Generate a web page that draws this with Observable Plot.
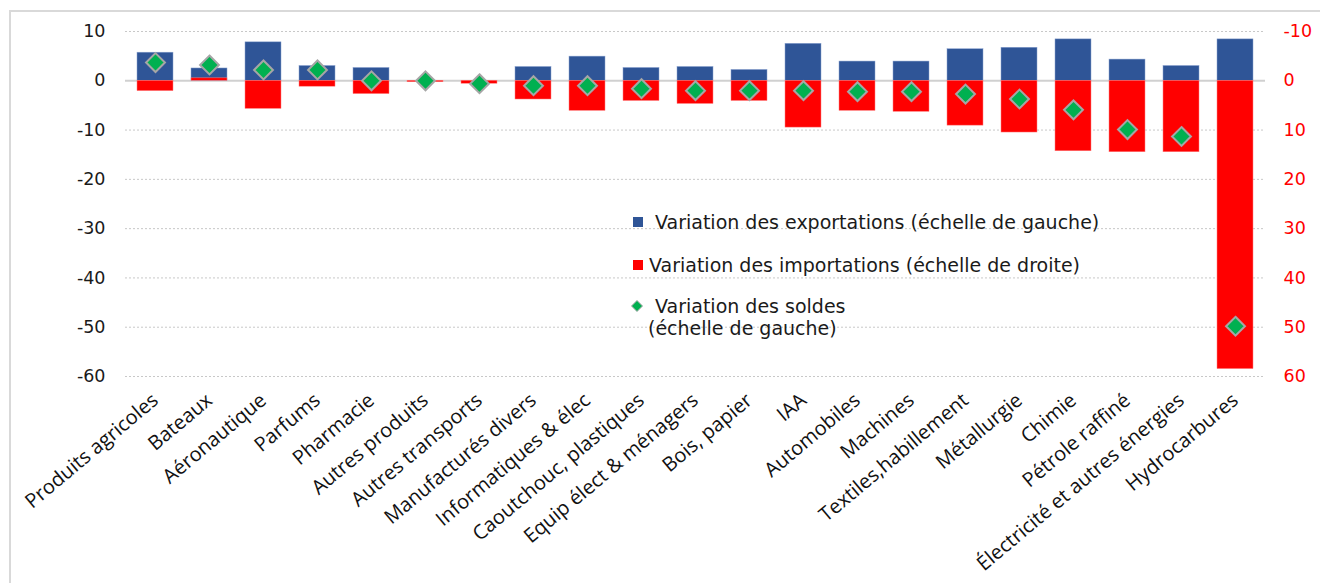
<!DOCTYPE html>
<html><head><meta charset="utf-8">
<script src="https://cdn.jsdelivr.net/npm/d3@7"></script>
<script src="https://cdn.jsdelivr.net/npm/@observablehq/plot@0.6"></script>
<style>
html,body{margin:0;padding:0;background:#fff;width:1320px;height:583px;overflow:hidden;position:relative;font-family:"DejaVu Sans",sans-serif;}
#frame{position:absolute;left:9px;top:10px;width:1340px;height:620px;border:2px solid #d9d9d9;box-sizing:border-box;pointer-events:none;}
#chart{position:absolute;left:0;top:0;}
#legend{position:absolute;left:630px;top:208px;font-family:"DejaVu Sans",sans-serif;font-size:19px;color:#1a1a1a;line-height:1;}
.li{position:absolute;white-space:nowrap;}
.sw{position:absolute;}
</style></head>
<body>
<div id="chart"></div>
<div id="frame"></div>
<div id="legend"></div>
<script>
const categories = ["Produits agricoles","Bateaux","Aéronautique","Parfums","Pharmacie","Autres produits","Autres transports","Manufacturés divers","Informatiques & élec","Caoutchouc, plastiques","Equip élect & ménagers","Bois, papier","IAA","Automobiles","Machines","Textiles,habillement","Métallurgie","Chimie","Pétrole raffiné","Électricité et autres énergies","Hydrocarbures"];
// left scale
const exportations = [5.7,2.5,7.8,3.0,2.6,0,0,2.8,4.9,2.6,2.8,2.2,7.5,3.9,3.9,6.4,6.7,8.4,4.3,3.0,8.4];
// right scale (inverted)
const importations = [2.1,-0.5,5.7,1.2,2.7,0.3,0.6,3.8,6.1,4.1,4.7,4.1,9.5,6.1,6.3,9.1,10.5,14.3,14.5,14.5,58.5];
// left scale
const soldes = [3.7,3.2,2.2,2.2,0,0,-0.6,-1.0,-1.0,-1.6,-2.0,-2.0,-2.0,-2.2,-2.2,-2.7,-3.7,-5.9,-9.9,-11.3,-49.8];
const leftTicks = [10,0,-10,-20,-30,-40,-50,-60];
const legendLabels = ["Variation des exportations (échelle de gauche)","Variation des importations (échelle de droite)","Variation des soldes","(échelle de gauche)"];

const rows = categories.map((c,i)=>({cat:c, exp:exportations[i], imp:-importations[i], sol:soldes[i]}));
const gridTicks = leftTicks.filter(d=>d!==0);

const chart = Plot.plot({
  width:1320, height:583,
  marginLeft:125, marginRight:55, marginTop:31, marginBottom:207,
  style:{fontFamily:"DejaVu Sans", background:"transparent"},
  x:{domain:categories, paddingInner:0.34, paddingOuter:0.17, label:null},
  y:{domain:[-60,10], label:null},
  marks:[
    Plot.ruleY(gridTicks,{stroke:"#c8c8c8", strokeDasharray:"2,2", strokeWidth:1}),
    Plot.ruleY([0],{stroke:"#d0d0d0", strokeWidth:2}),
    Plot.barY(rows,{x:"cat", y1:0, y2:"exp", fill:"#2f5597", stroke:"#8aa2cf", strokeWidth:0.5}),
    Plot.barY(rows,{x:"cat", y1:0, y2:"imp", fill:"#ff0000", stroke:"#ff8080", strokeWidth:0.5}),
    Plot.dot(rows,{x:"cat", y:"sol", symbol:"diamond2", r:8.5, fill:"#00b050", stroke:"#a6a6a6", strokeWidth:2}),
    Plot.axisY({anchor:"left", ticks:leftTicks, tickSize:0, tickPadding:20, tickFormat:d=>String(d), fontSize:17.5, fill:"#1a1a1a", label:null}),
    Plot.axisY({anchor:"right", ticks:leftTicks, tickSize:0, tickPadding:18, tickFormat:d=>String(-d), fontSize:17.5, fill:"#ff0000", label:null}),
    Plot.axisX({anchor:"bottom", tickSize:0, tickPadding:21, tickRotate:-40, fontSize:20, fill:"#111", label:null, fontFamily:"Open Sans"})
  ]
});
document.getElementById("chart").appendChild(chart);

const lg = document.getElementById("legend");
lg.innerHTML = `
<div class="sw" style="left:3px;top:9px;width:10px;height:10px;background:#2f5597"></div>
<div class="li" style="left:25px;top:5px">${legendLabels[0]}</div>
<div class="sw" style="left:3px;top:52px;width:10px;height:10px;background:#ff0000"></div>
<div class="li" style="left:19px;top:48px">${legendLabels[1]}</div>
<svg class="sw" style="left:0px;top:91px" width="14" height="14"><path d="M7,1.5L12.5,7L7,12.5L1.5,7Z" fill="#00b050" stroke="#a6a6a6" stroke-width="1"/></svg>
<div class="li" style="left:25px;top:89px">${legendLabels[2]}</div>
<div class="li" style="left:18px;top:111px">${legendLabels[3]}</div>`;
</script>
</body></html>
